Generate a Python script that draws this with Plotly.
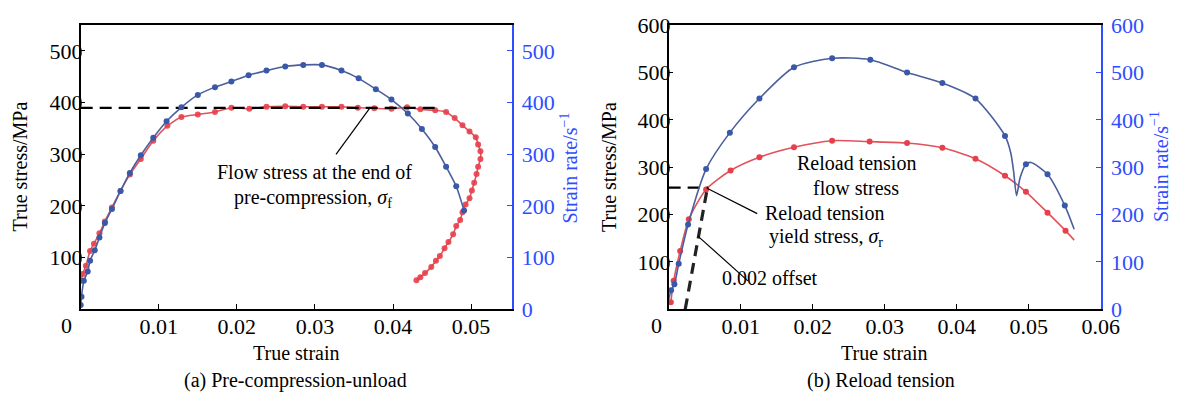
import plotly.graph_objects as go

# ---------------- Panel (a) Pre-compression-unload ----------------
a_stress_x = [0.0001, 0.00025, 0.00067, 0.0012, 0.0017, 0.0024, 0.0031, 0.0040, 0.0051, 0.0063,
              0.0077, 0.0093, 0.0111, 0.0129, 0.0150, 0.0172, 0.0193, 0.0216, 0.0238, 0.0262,
              0.0285, 0.0309, 0.0334, 0.0355, 0.0376, 0.0398, 0.0418, 0.0435, 0.0454, 0.0468,
              0.0479, 0.0489, 0.0498, 0.0506, 0.0509, 0.0512, 0.0512, 0.0509, 0.0507, 0.0504,
              0.0501, 0.0498, 0.0493, 0.0489, 0.0486, 0.0481, 0.0477, 0.0471, 0.0466, 0.0460,
              0.0455, 0.0449, 0.0441, 0.0435, 0.0430]
a_stress_y = [55, 68, 84, 113, 127, 147, 170, 197, 229, 261,
              291, 326, 355, 372, 377, 382, 390, 388, 392, 393,
              392, 392, 392, 390, 389, 388, 391, 387, 385, 382,
              370, 356, 344, 333, 319, 306, 291, 276, 262, 245,
              230, 215, 203, 188, 173, 161, 145, 130, 118, 103,
              94, 82, 70, 62, 56]
a_rate_x = [0.0, 0.0001, 0.0004, 0.0009, 0.0012, 0.0018, 0.0024, 0.0031, 0.0040, 0.0051,
            0.0063, 0.0077, 0.0093, 0.0110, 0.0129, 0.0150, 0.0172, 0.0193, 0.0215, 0.0238,
            0.0262, 0.0285, 0.0309, 0.0334, 0.0356, 0.0378, 0.0398, 0.0419, 0.0437, 0.0454,
            0.0468, 0.0481, 0.0491]
a_rate_y = [8, 24, 55, 73, 94, 114, 139, 167, 194, 229,
            264, 298, 332, 364, 391, 415, 430, 441, 453, 462,
            470, 473, 473, 462, 447, 426, 406, 379, 349, 314,
            276, 238, 191]
a_flow_x = [0.0, 0.0455]
a_flow_y = [390, 390]
a_lead_x = [0.0370, 0.0327]
a_lead_y = [389, 300]

# ---------------- Panel (b) Reload tension ----------------
b_stress_x = [0.0003, 0.0007, 0.0016, 0.0028, 0.0052, 0.0086, 0.0126, 0.0174, 0.0227, 0.0279,
              0.0331, 0.0380, 0.0426, 0.0467, 0.0496, 0.0526, 0.0551]
b_stress_y = [15, 60, 123, 190, 253, 293, 321, 342, 356, 354,
              351, 341, 318, 282, 248, 204, 166]
b_stress_end_x = [0.0563]
b_stress_end_y = [146]
b_rate_x = [0.00034, 0.0008, 0.0014, 0.0027, 0.0052, 0.0085, 0.0126, 0.0174, 0.0227, 0.0280,
            0.0331, 0.0380, 0.0426, 0.0467, 0.0496, 0.0526, 0.0550]
b_rate_y = [40, 53, 96, 179, 296, 373, 445, 511, 530, 527,
            500, 478, 445, 366, 306, 285, 219]
b_rate_extra_x = [0.0, 0.0475, 0.0479, 0.0483, 0.0488, 0.0503, 0.0563]
b_rate_extra_y = [20, 330, 290, 240, 278, 310, 169]
b_yield_x = [0.0, 0.0055]
b_yield_y = [257, 257]
b_offset_x = [0.0023, 0.0054]
b_offset_y = [0, 258]
b_lead1_x = [0.0054, 0.0123]
b_lead1_y = [255, 202]
b_lead2_x = [0.0041, 0.0110]
b_lead2_y = [154, 60]

RED_LINE = '#e2525c'
RED_MK = '#e5404b'
BLUE_LINE = '#4a5f9c'
BLUE_MK = '#3a58a8'
AX_BLUE = '#2e4dff'
FONT = 'Liberation Serif'
W, H = 1189, 407


def px(xp):
    return xp / W


def py(yp):
    return 1 - yp / H


fig = go.Figure()

# panel a curves
fig.add_trace(go.Scatter(x=a_rate_x, y=a_rate_y, mode='lines+markers', xaxis='x', yaxis='y2',
                         line=dict(color=BLUE_LINE, width=1.6, shape='spline', smoothing=0.6),
                         marker=dict(color=BLUE_MK, size=6), showlegend=False))
fig.add_trace(go.Scatter(x=a_stress_x, y=a_stress_y, mode='lines+markers', xaxis='x', yaxis='y',
                         line=dict(color=RED_LINE, width=1.6, shape='spline', smoothing=0.6),
                         marker=dict(color=RED_MK, size=6, opacity=0.9), showlegend=False))
fig.add_trace(go.Scatter(x=a_flow_x, y=a_flow_y, mode='lines', xaxis='x', yaxis='y',
                         line=dict(color='black', width=2.2, dash='12px,7px'), showlegend=False))
fig.add_trace(go.Scatter(x=a_lead_x, y=a_lead_y, mode='lines', xaxis='x', yaxis='y',
                         line=dict(color='black', width=1.2), showlegend=False))

# panel b curves
bl = sorted(zip(b_rate_x + b_rate_extra_x, b_rate_y + b_rate_extra_y))
fig.add_trace(go.Scatter(x=[p[0] for p in bl], y=[p[1] for p in bl], mode='lines', xaxis='x2', yaxis='y4',
                         line=dict(color=BLUE_LINE, width=1.6, shape='spline', smoothing=0.7), showlegend=False))
fig.add_trace(go.Scatter(x=b_rate_x, y=b_rate_y, mode='markers', xaxis='x2', yaxis='y4',
                         marker=dict(color=BLUE_MK, size=6), showlegend=False))
rl = sorted(zip(b_stress_x + b_stress_end_x, b_stress_y + b_stress_end_y))
fig.add_trace(go.Scatter(x=[p[0] for p in rl], y=[p[1] for p in rl], mode='lines', xaxis='x2', yaxis='y3',
                         line=dict(color=RED_LINE, width=1.6, shape='spline', smoothing=0.7), showlegend=False))
fig.add_trace(go.Scatter(x=b_stress_x, y=b_stress_y, mode='markers', xaxis='x2', yaxis='y3',
                         marker=dict(color=RED_MK, size=6), showlegend=False))
fig.add_trace(go.Scatter(x=b_yield_x, y=b_yield_y, mode='lines', xaxis='x2', yaxis='y3',
                         line=dict(color='black', width=2.2, dash='12px,7px'), showlegend=False))
fig.add_trace(go.Scatter(x=b_offset_x, y=b_offset_y, mode='lines', xaxis='x2', yaxis='y3',
                         line=dict(color='#222222', width=3.2, dash='11px,7px'), showlegend=False))
fig.add_trace(go.Scatter(x=b_lead1_x, y=b_lead1_y, mode='lines', xaxis='x2', yaxis='y3',
                         line=dict(color='black', width=1.2), showlegend=False))
fig.add_trace(go.Scatter(x=b_lead2_x, y=b_lead2_y, mode='lines', xaxis='x2', yaxis='y3',
                         line=dict(color='black', width=1.2), showlegend=False))

tf = dict(family=FONT, size=22, color='black')
tfb = dict(family=FONT, size=22, color=AX_BLUE)
ydom = [py(316.7), py(14)]

common_x = dict(showgrid=False, zeroline=False, showline=True, linecolor='black', linewidth=1.5,
                mirror=True, ticks='inside', ticklen=5, tickcolor='black', tickfont=tf,
                ticklabelstandoff=-3)
common_y = dict(showgrid=False, zeroline=False, showline=True, linecolor='black', linewidth=1.5,
                ticks='inside', ticklen=5, tickcolor='black', tickfont=tf, ticklabelstandoff=-8)
common_y2 = dict(showgrid=False, zeroline=False, showline=True, linecolor=AX_BLUE, linewidth=1.5,
                 ticks='inside', ticklen=5, tickcolor=AX_BLUE, tickfont=tfb, side='right',
                 ticklabelstandoff=4)

a_xticks = [0.01, 0.02, 0.03, 0.04, 0.05]
b_xticks = [0.01, 0.02, 0.03, 0.04, 0.05, 0.06]
a_yticks = [100, 200, 300, 400, 500]
a_y2ticks = [0, 100, 200, 300, 400, 500]
b_yticks = [100, 200, 300, 400, 500, 600]
b_y2ticks = [0, 100, 200, 300, 400, 500, 600]

fig.update_layout(
    width=W, height=H, margin=dict(l=0, r=0, t=0, b=0),
    paper_bgcolor='white', plot_bgcolor='white',
    xaxis=dict(domain=[px(82), px(520)], range=[0, 0.0552], anchor='y',
               tickvals=a_xticks, ticktext=[str(v) for v in a_xticks], **common_x),
    yaxis=dict(domain=ydom, range=[0, 550], anchor='x', tickvals=a_yticks, **common_y),
    yaxis2=dict(range=[0, 550], overlaying='y', anchor='x', tickvals=a_y2ticks, **common_y2),
    xaxis2=dict(domain=[px(679.5), px(1118.7)], range=[0, 0.06], anchor='y3',
                tickvals=b_xticks, ticktext=[str(v) for v in b_xticks], **common_x),
    yaxis3=dict(domain=ydom, range=[0, 600], anchor='x2', tickvals=b_yticks, **common_y),
    yaxis4=dict(range=[0, 600], overlaying='y3', anchor='x2', tickvals=b_y2ticks, **common_y2),
)


def txt(x, y, s, color='black', angle=0, size=20):
    fig.add_annotation(x=px(x), y=py(y), xref='paper', yref='paper', text=s, showarrow=False,
                       font=dict(family=FONT, size=size, color=color), textangle=angle,
                       xanchor='center', yanchor='middle')


# corner zeros
txt(68, 334, '0', size=22)
txt(667, 334, '0', size=22)
# axis titles
txt(20, 165, 'True stress/MPa', angle=-90)
txt(619, 165, 'True stress/MPa', angle=-90)
txt(578, 166, 'Strain rate/s<sup>−1</sup>', color=AX_BLUE, angle=-90)
txt(1178, 165, 'Strain rate/s<sup>−1</sup>', color=AX_BLUE, angle=-90)
txt(301, 363, 'True strain')
txt(898, 363, 'True strain')
# captions
txt(300, 393, '(a) Pre-compression-unload')
txt(895, 393, '(b) Reload tension')
# panel annotations
txt(320, 171, 'Flow stress at the end of')
txt(318, 199, 'pre-compression, <i>σ</i><sub>f</sub>')
txt(870, 161, 'Reload tension')
txt(870, 188, 'flow stress')
txt(838, 214, 'Reload tension')
txt(839, 240, 'yield stress, <i>σ</i><sub>r</sub>')
txt(782, 283, '0.002 offset')

fig.write_html('out.html')
